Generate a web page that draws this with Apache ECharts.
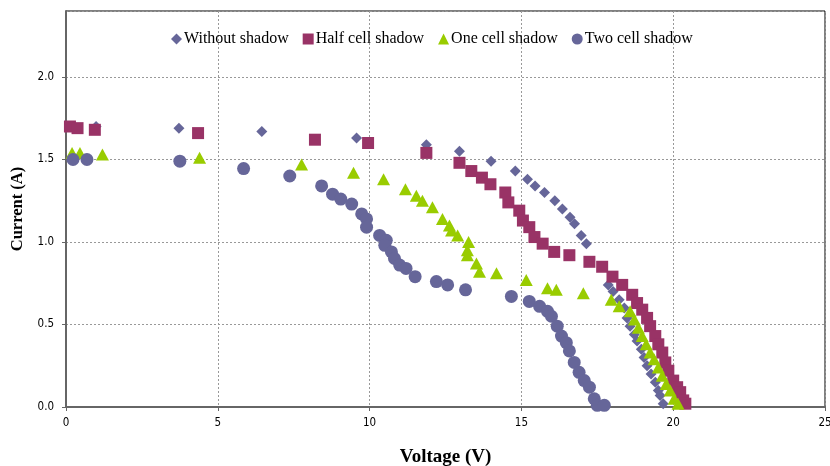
<!DOCTYPE html>
<html>
<head>
<meta charset="utf-8">
<script src="https://cdn.jsdelivr.net/npm/echarts@6/dist/echarts.min.js"></script>
<style>
  html, body { margin: 0; padding: 0; background: #fff; }
  #chart { width: 830px; height: 466px; }
</style>
</head>
<body>
<div id="chart"></div>
<script>
// I-V curves (voltage in V, current in A)
const seriesNames = ['Without shadow', 'Half cell shadow', 'One cell shadow', 'Two cell shadow']

const noShadowV = [0.99, 3.72, 6.45, 9.57, 11.87, 12.96, 14.0, 14.8, 15.2, 15.45, 15.76, 16.1, 16.35, 16.6, 16.75, 16.97, 17.14,
  17.86, 18.02, 18.22, 18.39, 18.48, 18.58, 18.72, 18.81, 18.95, 19.04, 19.14, 19.27, 19.41, 19.51, 19.57, 19.67]
const noShadowI = [1.70, 1.69, 1.67, 1.63, 1.59, 1.55, 1.49, 1.43, 1.38, 1.34, 1.30, 1.25, 1.20, 1.15, 1.11, 1.04, 0.99,
  0.74, 0.70, 0.65, 0.60, 0.54, 0.49, 0.44, 0.40, 0.35, 0.30, 0.25, 0.20, 0.15, 0.10, 0.07, 0.02]

const halfCellV = [0.13, 0.38, 0.95, 4.35, 8.2, 9.95, 11.87, 12.96, 13.35, 13.7, 13.98, 14.47, 14.57, 14.93, 15.05, 15.26, 15.43, 15.7,
  16.08, 16.58, 17.24, 17.66, 18.0, 18.32, 18.65, 18.81, 18.98, 19.14, 19.24, 19.41, 19.51, 19.64, 19.74, 19.84, 20.0, 20.13, 20.23, 20.33, 20.4]
const halfCellI = [1.70, 1.69, 1.68, 1.66, 1.62, 1.60, 1.54, 1.48, 1.43, 1.39, 1.35, 1.30, 1.24, 1.19, 1.13, 1.09, 1.03, 0.99,
  0.94, 0.92, 0.88, 0.85, 0.79, 0.74, 0.68, 0.63, 0.59, 0.54, 0.49, 0.43, 0.38, 0.33, 0.27, 0.22, 0.16, 0.12, 0.09, 0.04, 0.02]

const oneCellV = [0.2, 0.46, 1.2, 4.4, 7.76, 9.47, 10.46, 11.18, 11.54, 11.74, 12.07, 12.4, 12.63, 12.7, 12.9, 13.26, 13.22, 13.22,
  13.52, 13.62, 14.18, 15.16, 15.86, 16.15, 17.04, 17.96, 18.22, 18.58, 18.72, 18.85, 18.98, 19.11, 19.24, 19.37, 19.51, 19.64,
  19.77, 19.9, 20.03, 20.16]
const oneCellI = [1.54, 1.54, 1.53, 1.51, 1.47, 1.42, 1.38, 1.32, 1.28, 1.25, 1.21, 1.14, 1.10, 1.07, 1.04, 1.00, 0.95, 0.92,
  0.87, 0.82, 0.81, 0.77, 0.72, 0.71, 0.69, 0.65, 0.61, 0.58, 0.53, 0.48, 0.43, 0.38, 0.33, 0.29, 0.24, 0.19,
  0.14, 0.10, 0.05, 0.02]

const twoCellV = [0.23, 0.69, 3.75, 5.85, 7.37, 8.42, 8.78, 9.05, 9.41, 9.74, 9.9, 9.9, 10.33, 10.55, 10.5, 10.72, 10.82, 10.99, 11.2,
  11.5, 12.2, 12.57, 13.16, 14.67, 15.26, 15.6, 15.86, 15.99, 16.18, 16.32, 16.48, 16.58, 16.74, 16.9, 17.07, 17.24, 17.4, 17.5, 17.73]
const twoCellI = [1.50, 1.50, 1.49, 1.445, 1.40, 1.34, 1.29, 1.26, 1.23, 1.17, 1.14, 1.09, 1.04, 1.01, 0.98, 0.94, 0.90, 0.86, 0.84,
  0.79, 0.76, 0.74, 0.71, 0.67, 0.64, 0.61, 0.58, 0.55, 0.49, 0.43, 0.39, 0.34, 0.27, 0.21, 0.16, 0.12, 0.05, 0.01, 0.01]

const zip = (v, i) => v.map((x, k) => [x, i[k]])

const chart = echarts.init(document.getElementById('chart'))

const serif = 'Liberation Serif, Times New Roman, serif'
const narrow = 'DejaVu Sans Condensed, Liberation Sans Narrow, DejaVu Sans, sans-serif'

const option = {
  animation: false,
  backgroundColor: '#fff',
  color: ['#666699', '#993366', '#99cc00', '#666699'],
  legend: {
    top: 26,
    left: 166,
    itemWidth: 11,
    itemHeight: 11,
    itemGap: 14,
    textStyle: { fontFamily: serif, fontSize: 16, color: '#000', padding: [0, 0, 0, -3] },
    data: [
      { name: seriesNames[0], icon: 'diamond' },
      { name: seriesNames[1], icon: 'rect' },
      { name: seriesNames[2], icon: 'triangle' },
      { name: seriesNames[3], icon: 'circle' },
    ],
  },
  grid: {
    left: 66,
    right: 5,
    top: 11,
    bottom: 59,
    outerBoundsMode: 'none',
    show: true,
    borderColor: '#000',
    borderWidth: 1,
  },
  xAxis: {
    type: 'value',
    min: 0,
    max: 25,
    interval: 5,
    name: 'Voltage (V)',
    nameLocation: 'middle',
    nameGap: 41,
    nameTextStyle: { fontFamily: serif, fontSize: 19, fontWeight: 'bold', color: '#000' },
    axisLine: { lineStyle: { color: '#666', width: 2 } },
    axisTick: { show: true, length: 4, lineStyle: { color: '#666' } },
    axisLabel: { margin: 10, fontFamily: narrow, fontSize: 11.5, color: '#000' },
    splitLine: { show: true, lineStyle: { color: '#999', type: [2, 2], width: 1 } },
  },
  yAxis: {
    type: 'value',
    min: 0,
    max: 2.4,
    interval: 0.5,
    name: 'Current (A)',
    nameLocation: 'middle',
    nameGap: 36,
    nameRotate: 90,
    nameTextStyle: { fontFamily: serif, fontSize: 16.5, fontWeight: 'bold', color: '#000' },
    axisLine: { show: true, lineStyle: { color: '#666', width: 2 } },
    axisTick: { show: true, length: 4, lineStyle: { color: '#666' } },
    axisLabel: {
      margin: 12,
      showMaxLabel: false,
      fontFamily: narrow,
      fontSize: 11.5,
      color: '#000',
      formatter: (v) => v.toFixed(1),
    },
    splitLine: { show: true, lineStyle: { color: '#999', type: [2, 2], width: 1 } },
  },
  series: [
    { name: seriesNames[0], type: 'scatter', symbol: 'diamond', symbolSize: 11, itemStyle: { opacity: 1 }, data: zip(noShadowV, noShadowI) },
    { name: seriesNames[1], type: 'scatter', symbol: 'rect', symbolSize: 12, itemStyle: { opacity: 1 }, data: zip(halfCellV, halfCellI) },
    { name: seriesNames[2], type: 'scatter', symbol: 'triangle', symbolSize: [13, 12], itemStyle: { opacity: 1 }, data: zip(oneCellV, oneCellI) },
    { name: seriesNames[3], type: 'scatter', symbol: 'circle', symbolSize: 13, itemStyle: { opacity: 1 }, data: zip(twoCellV, twoCellI) },
  ],
}

chart.setOption(option)
</script>
</body>
</html>
